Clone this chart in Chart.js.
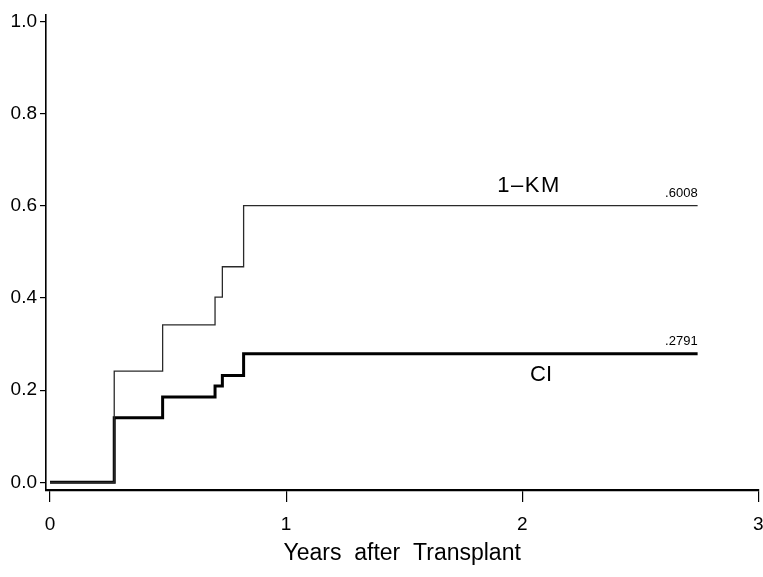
<!DOCTYPE html>
<html>
<head>
<meta charset="utf-8">
<script src="https://cdn.jsdelivr.net/npm/chart.js@4/dist/chart.umd.min.js"></script>
<style>
  html, body { margin: 0; padding: 0; background: #fff; }
  #wrap { width: 763px; height: 577px; }
</style>
</head>
<body>
<div id="wrap"><canvas id="c" width="763" height="577"></canvas></div>
<script>
// ---- data ----
const times = [0, 0.272, 0.477, 0.699, 0.730, 0.820, 2.743];
const oneMinusKM = [0, 0.2416, 0.342, 0.402, 0.468, 0.6008, 0.6008];
const cumInc = [0, 0.140, 0.185, 0.209, 0.232, 0.2791, 0.2791];
const xTickValues = [0, 1, 2, 3];
const yTickValues = [0, 0.2, 0.4, 0.6, 0.8, 1.0];
const seriesNames = ['1\u2013KM', 'CI'];
const xTitle = 'Years  after  Transplant';

const FONT = '"Liberation Sans", Arial, Helvetica, sans-serif';

function pts(ys) { return times.map((t, i) => ({ x: t, y: ys[i] })); }
function fmtEnd(v) { return '.' + v.toFixed(4).split('.')[1]; }

const annot = {
  id: 'annot',
  afterDatasetsDraw(chart) {
    const ctx = chart.ctx, xs = chart.scales.x, ys = chart.scales.y;
    const lastKM = oneMinusKM[oneMinusKM.length - 1];
    const lastCI = cumInc[cumInc.length - 1];
    const tEnd = times[times.length - 1];
    ctx.save();
    ctx.fillStyle = '#000';
    ctx.textBaseline = 'middle';
    // series names
    ctx.font = '22px ' + FONT;
    ctx.textAlign = 'center';
    try { ctx.letterSpacing = '1.5px'; } catch (e) {}
    ctx.fillText(seriesNames[0], xs.getPixelForValue(2.029), ys.getPixelForValue(lastKM) - 20);
    try { ctx.letterSpacing = '0px'; } catch (e) {}
    ctx.fillText(seriesNames[1], xs.getPixelForValue(2.08), ys.getPixelForValue(lastCI) + 21);
    // end values
    ctx.font = '13px ' + FONT;
    ctx.textAlign = 'right';
    ctx.fillText(fmtEnd(lastKM), xs.getPixelForValue(tEnd), ys.getPixelForValue(lastKM) - 12);
    ctx.fillText(fmtEnd(lastCI), xs.getPixelForValue(tEnd), ys.getPixelForValue(lastCI) - 12);
    ctx.restore();
  }
};

new Chart(document.getElementById('c'), {
  type: 'line',
  data: {
    datasets: [
      { label: seriesNames[0], data: pts(oneMinusKM), stepped: 'before',
        borderColor: '#2a2a2a', borderWidth: 1.3, pointRadius: 0, fill: false },
      { label: seriesNames[1], data: pts(cumInc), stepped: 'before',
        borderColor: '#000', borderWidth: 3, pointRadius: 0, fill: false }
    ]
  },
  options: {
    responsive: false,
    animation: false,
    layout: { padding: { top: 15, right: 4.7, left: 0, bottom: 0 } },
    plugins: { legend: { display: false }, tooltip: { enabled: false } },
    scales: {
      x: {
        type: 'linear', min: -0.017, max: 3.0,
        afterBuildTicks(s) { s.ticks = xTickValues.map(v => ({ value: v })); },
        afterFit(s) { s.height = 87; s.paddingLeft = 0; s.paddingRight = 0; },
        border: { display: true, color: '#000', width: 2.2 },
        grid: { drawOnChartArea: false, drawTicks: true, tickLength: 12, color: '#000', lineWidth: 1.2 },
        ticks: { color: '#000', font: { family: FONT, size: 19 }, padding: 11, maxRotation: 0,
                 callback: v => String(v) },
        title: { display: true, text: xTitle, color: '#000',
                 font: { family: FONT, size: 23 }, padding: { top: 0, bottom: 10 } }
      },
      y: {
        type: 'linear', min: -0.0167, max: 1.0146,
        afterBuildTicks(s) { s.ticks = yTickValues.map(v => ({ value: v })); },
        afterFit(s) { s.width = 46; s.paddingTop = 0; s.paddingBottom = 0; },
        border: { display: true, color: '#000', width: 1.6 },
        grid: { drawOnChartArea: false, drawTicks: true, tickLength: 6, color: '#000', lineWidth: 1.2 },
        ticks: { color: '#000', font: { family: FONT, size: 19 }, padding: 3,
                 callback: v => Number(v).toFixed(1) }
      }
    }
  },
  plugins: [annot]
});
</script>
</body>
</html>
